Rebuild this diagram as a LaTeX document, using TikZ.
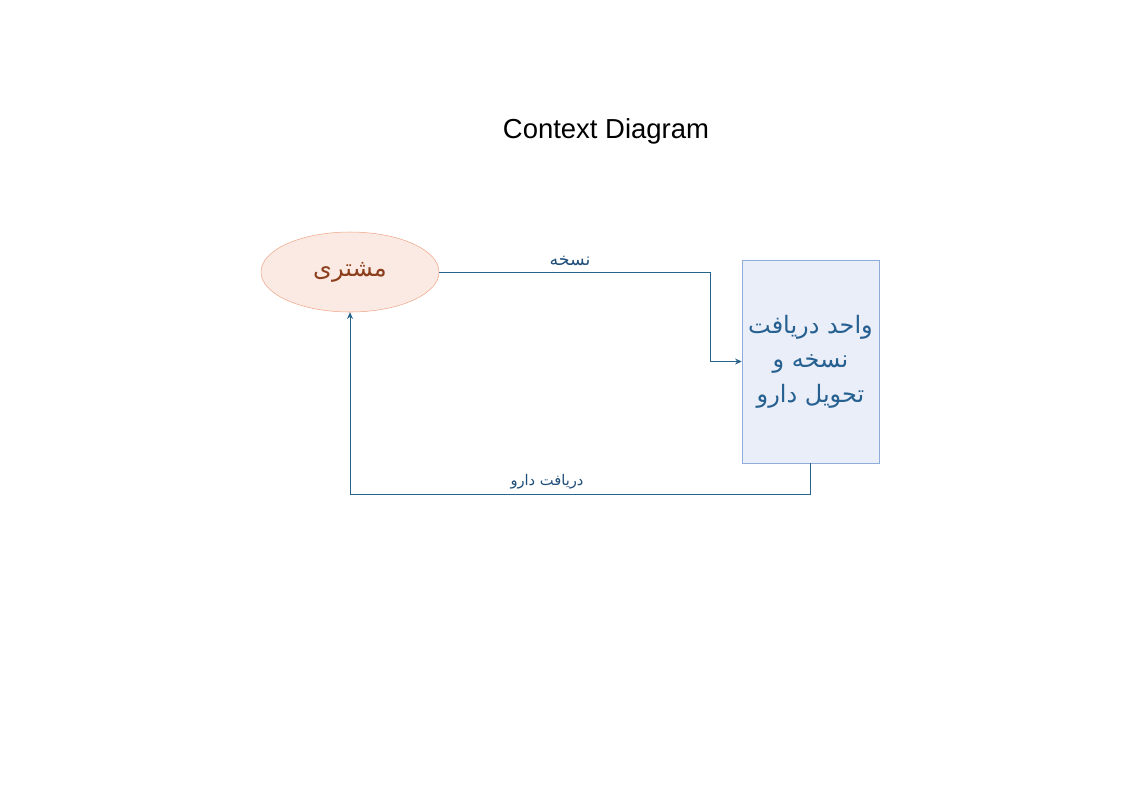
\documentclass[tikz,border=0pt]{standalone}
\usepackage{fontspec}
\setmainfont{Liberation Sans}
\newfontfamily\arabicfont[Script=Arabic]{DejaVu Sans}
\TeXXeTstate=1
\usetikzlibrary{shapes.geometric,arrows.meta}
\definecolor{custfill}{RGB}{251,234,227}
\definecolor{custline}{RGB}{240,168,138}
\definecolor{custtext}{RGB}{140,62,28}
\definecolor{unitfill}{RGB}{233,238,248}
\definecolor{unitline}{RGB}{143,172,218}
\definecolor{unittext}{RGB}{38,96,145}
\definecolor{flowline}{RGB}{40,100,140}
\definecolor{flowtext}{RGB}{31,78,121}
\tikzset{
  entity/.style={ellipse, draw=custline, fill=custfill, text=custtext, inner sep=0pt,
    minimum width=133.5pt, minimum height=60pt, font=\arabicfont\fontsize{18}{22}\selectfont},
  process/.style={rectangle, draw=unitline, fill=unitfill, text=unittext, inner sep=0pt,
    minimum width=102.75pt, minimum height=152.25pt, align=center,
    font=\arabicfont\fontsize{18}{26}\selectfont},
  flow/.style={draw=flowline, line width=0.6pt, -{Stealth[length=5pt,width=4.5pt]}},
  flowlabel/.style={text=flowtext, inner sep=0pt, font=\arabicfont\fontsize{11}{13}\selectfont}
}
\begin{document}
\begin{tikzpicture}[x=0.75pt,y=-0.75pt]
\useasboundingbox (0,0) rectangle (1123,794);
\node[font=\fontsize{20.6}{24}\selectfont] (title) at (606,131){Context Diagram};
\node[entity] (cust) at (350,272){\beginR مشتری\endR};
\node[process] (unit) at (810.5,361.5){\beginR واحد دریافت\endR\\\beginR نسخه و\endR\\\beginR تحویل دارو\endR};
\coordinate (bend1) at (710,272);
\coordinate (bend2) at (810.5,494);
\draw[flow](cust.east) -- (bend1) |- (unit.west);
\draw[flow](unit.south) -- (bend2) -| (cust.south);
\node[flowlabel, font=\arabicfont\fontsize{13}{15}\selectfont] (rx) at (570,261){\beginR نسخه\endR};
\node[flowlabel] (drug) at (547,482){\beginR دریافت دارو\endR};
\end{tikzpicture}
\end{document}
